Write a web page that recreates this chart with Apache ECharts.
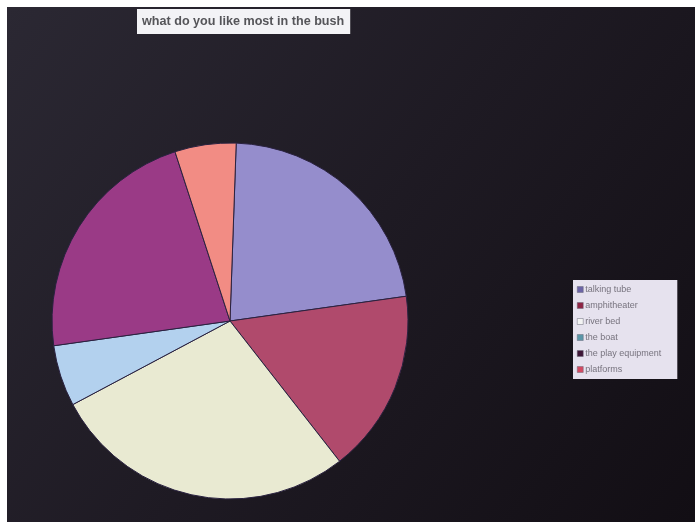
<!DOCTYPE html>
<html>
<head>
<meta charset="utf-8">
<script src="https://cdn.jsdelivr.net/npm/echarts@6/dist/echarts.min.js"></script>
<style>
  html, body { margin: 0; padding: 0; background: #ffffff; }
  #chart { position: absolute; left: 7px; top: 7px; width: 688px; height: 515px; }
</style>
</head>
<body>
<div id="chart"></div>
<script>
// Survey answers: what the children liked most in the bush
const categories = ['talking tube', 'amphitheater', 'river bed', 'the boat', 'the play equipment', 'platforms'];
const votes = [4, 3, 5, 1, 4, 1];

// Slice fills and the (darker) legend swatches printed beside them
const sliceColors = ['#958dcc', '#b04a6c', '#e9ead2', '#b3d1ee', '#9a3a86', '#f28c84'];
const swatchColors = ['#6c64a6', '#8e2444', '#f4f4f4', '#5a96a8', '#3e1636', '#d24a62'];

const chart = echarts.init(document.getElementById('chart'));

chart.setOption({
  backgroundColor: {
    type: 'linear', x: 0, y: 0, x2: 1, y2: 1,
    colorStops: [
      { offset: 0, color: '#2b2833' },
      { offset: 0.5, color: '#1e1a23' },
      { offset: 1, color: '#120e14' }
    ]
  },
  title: {
    text: 'what do you like most in the bush',
    left: 130,
    top: 2,
    padding: [6, 6, 6, 5],
    backgroundColor: '#f3f3f6',
    textStyle: { fontFamily: 'Liberation Sans, Arial, sans-serif', fontSize: 12.6, fontWeight: 'bold', color: '#555559' }
  },
  legend: {
    orient: 'vertical',
    left: 566,
    top: 273,
    padding: [5, 16, 5, 4],
    backgroundColor: '#e6e2ee',
    itemWidth: 6,
    itemHeight: 6,
    itemGap: 7,
    icon: 'rect',
    selectedMode: false,
    textStyle: { fontFamily: 'Liberation Sans, Arial, sans-serif', fontSize: 9, color: '#77737e', padding: [0, 0, 0, -3] },
    data: categories.map((name, i) => ({
      name: name,
      itemStyle: { color: swatchColors[i], borderColor: '#6a6a7a', borderWidth: 0.5 }
    }))
  },
  series: [{
    type: 'pie',
    center: [223, 314],
    radius: 178,
    startAngle: 88,
    clockwise: true,
    avoidLabelOverlap: false,
    label: { show: false },
    labelLine: { show: false },
    emphasis: { disabled: true },
    itemStyle: { borderColor: '#2a2240', borderWidth: 1 },
    data: categories.map((name, i) => ({
      name: name,
      value: votes[i],
      itemStyle: { color: sliceColors[i] }
    }))
  }]
});
</script>
</body>
</html>
